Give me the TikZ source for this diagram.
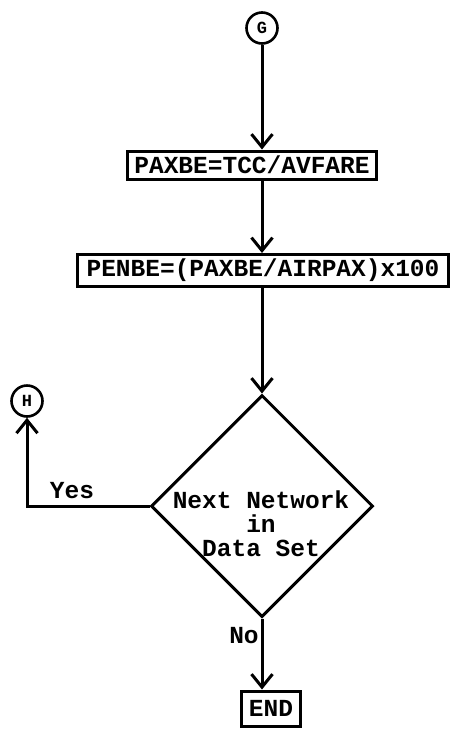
\documentclass[tikz,border=0pt]{standalone}
\usepackage{fontspec}
\newfontfamily\twfont{Liberation Mono}
\usetikzlibrary{arrows.meta,shapes.geometric}

\tikzset{
  tw/.style={font={\twfont\bfseries\fontsize{24.5}{24}\selectfont}},
  conn/.style={circle,draw,line width=2.6pt,inner sep=0pt,minimum size=31pt,
               font={\twfont\bfseries\fontsize{17}{17}\selectfont}},
  proc/.style={rectangle,draw,line width=3pt,inner sep=0pt,tw},
  decide/.style={diamond,draw,line width=3pt,inner sep=0pt},
  flow/.style={line width=3pt,-{Straight Barb[length=13pt,width=21pt,line width=3pt]}},
  lbl/.style={tw,inner sep=0pt}
}

\begin{document}
\begin{tikzpicture}[x=1pt,y=-1pt]
  \useasboundingbox[fill=white] (0,0) rectangle (451,729);

  % connectors and process boxes
  \node[conn] (G) at (262,28) {G};
  \node[proc,minimum width=249pt,minimum height=28pt] (b1) at (252,165) {PAXBE=TCC/AVFARE};
  \node[proc,minimum width=371pt,minimum height=32pt] (b2) at (263,270.5) {PENBE=(PAXBE/AIRPAX)x100};

  % decision (the text sits in the lower half of the diamond)
  \node[decide,minimum width=222pt,minimum height=222pt] (dec) at (262,506) {};
  \node[lbl,align=center,anchor=base] (dectext) at (261,556) {Next Network\\in\\Data Set};

  \node[conn] (H) at (27,401) {H};
  \node[proc,minimum width=59pt,minimum height=35pt] (end) at (271,708.5) {END};

  % branch labels
  \node[lbl,anchor=base] (yes) at (72,498) {Yes};
  \node[lbl,anchor=base] (no) at (244,643) {No};

  % flow lines
  \draw[flow] (G) -- (G |- b1.north);
  \draw[flow] (G |- b1.south) -- (G |- b2.north);
  \draw[flow] (G |- b2.south) -- (dec.north);
  \draw[flow] (dec.west) -| (H.south);
  \draw[flow] (dec.south) -- (dec.south |- end.north);
\end{tikzpicture}
\end{document}
